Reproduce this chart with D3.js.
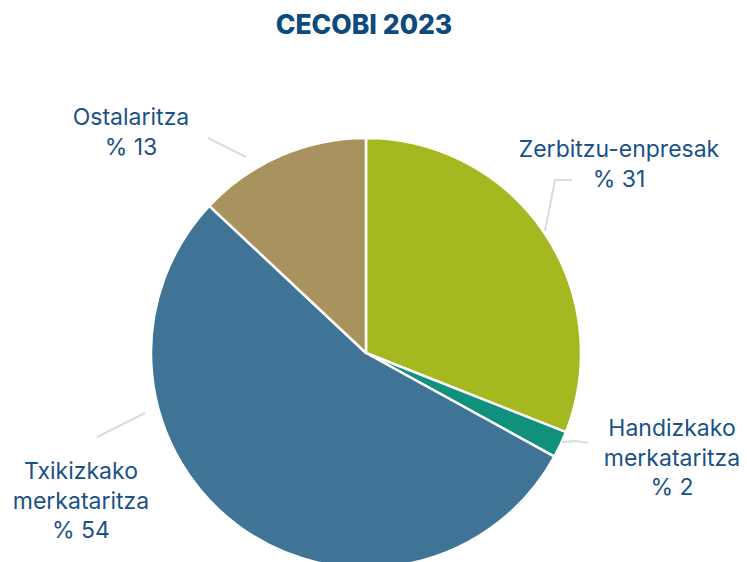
<!DOCTYPE html>
<html><head><meta charset="utf-8">
<script src="https://cdn.jsdelivr.net/npm/d3@7"></script>
<style>
html,body{margin:0;padding:0;background:#fff;}
svg{display:block;}
</style></head>
<body>
<svg id="chart" width="747" height="562"></svg>
<script>
const title = "CECOBI 2023";
const categories = ["Zerbitzu-enpresak", "Handizkako merkataritza", "Txikizkako merkataritza", "Ostalaritza"];
const values = [31, 2, 54, 13];
const colors = ["#a5b81f", "#0f917b", "#3f7497", "#a8935f"];

// label layout (line texts, center x, first baseline) and connector polylines
const labelLines = [["Zerbitzu-enpresak", "% 31"], ["Handizkako", "merkataritza", "% 2"], ["Txikizkako", "merkataritza", "% 54"], ["Ostalaritza", "% 13"]];
const labelPos = [[619, 157], [672, 436], [81, 479], [131, 125]];
const connectors = [
  [[545, 231], [555, 180], [572, 180]],
  [[562, 442], [575, 441], [588, 443]],
  [[145, 413], [97, 437]],
  [[246, 157], [208, 138]]
];

const svg = d3.select("#chart");
const cx = 366, cy = 353, r = 215;
const font = "Inter, 'Noto Sans', sans-serif";

svg.append("text").attr("x", 364).attr("y", 34).attr("text-anchor", "middle")
  .attr("font-family", font).attr("font-weight", 800).attr("font-size", 26.5)
  .attr("fill", "#0d4a7e").text(title);

const pie = d3.pie().sort(null).value(d => d);
const arc = d3.arc().innerRadius(0).outerRadius(r);
const g = svg.append("g").attr("transform", `translate(${cx},${cy})`);
g.selectAll("path").data(pie(values)).join("path")
  .attr("d", arc).attr("fill", (d, i) => colors[i])
  .attr("stroke", "#fff").attr("stroke-width", 2.5).attr("stroke-linejoin", "round");

svg.selectAll("path.conn").data(connectors).join("path").attr("class", "conn")
  .attr("d", d => d3.line().curve(d3.curveLinear)(d))
  .attr("fill", "none").attr("stroke", "#dcdcdc").attr("stroke-width", 2);

categories.forEach((c, i) => {
  const t = svg.append("text").attr("text-anchor", "middle")
    .attr("font-family", font).attr("font-size", 23).attr("fill", "#1a5286");
  labelLines[i].forEach((ln, j) => {
    t.append("tspan").attr("x", labelPos[i][0]).attr("y", labelPos[i][1] + j * 29.5).text(ln);
  });
});
</script>
</body></html>
